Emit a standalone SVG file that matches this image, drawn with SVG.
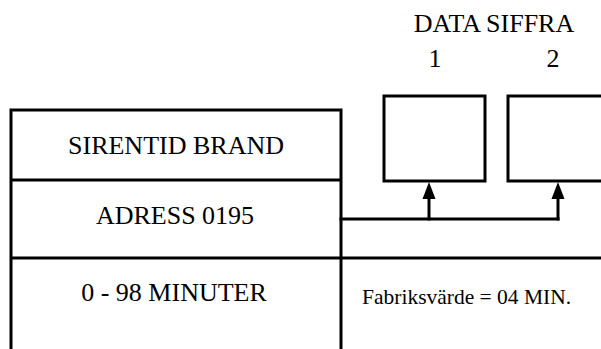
<svg xmlns="http://www.w3.org/2000/svg" width="601" height="349" viewBox="0 0 601 349">
<style>
.l{stroke:#000;stroke-width:3;fill:none;stroke-linecap:square}
.t{font-family:"Liberation Serif","Times New Roman",serif;fill:#000}
.big{font-size:26px;text-anchor:middle}
.sm{font-size:21.5px}
</style>
<rect width="601" height="349" fill="#fff"/>
<g id="table">
<path class="l" d="M11,110 H341 M11,110 V349 M341,110 V349 M11,180 H341 M11,258 H601"/>
<text class="t big" x="176" y="154">SIRENTID BRAND</text>
<text class="t big" x="175" y="224">ADRESS 0195</text>
<text class="t big" x="174" y="301">0 - 98 MINUTER</text>
<text class="t sm" x="362" y="304">Fabriksvärde = 04 MIN.</text>
</g>
<g id="header">
<text class="t big" x="494" y="32">DATA SIFFRA</text>
<text class="t big" x="435" y="67">1</text>
<text class="t big" x="553" y="67">2</text>
</g>
<g id="digit1">
<rect class="l" x="384" y="96" width="101" height="85"/>
</g>
<g id="digit2">
<path class="l" d="M601,96 H508 V181 H601"/>
</g>
<g id="connectors">
<path class="l" d="M341,219 H558"/>
<path class="l" d="M429,219 V198"/>
<path class="l" d="M558,219 V198"/>
<path d="M422.5,199 L429,182 L435.5,199 Z" fill="#000"/>
<path d="M551.5,199 L558,182 L564.5,199 Z" fill="#000"/>
</g>
</svg>
